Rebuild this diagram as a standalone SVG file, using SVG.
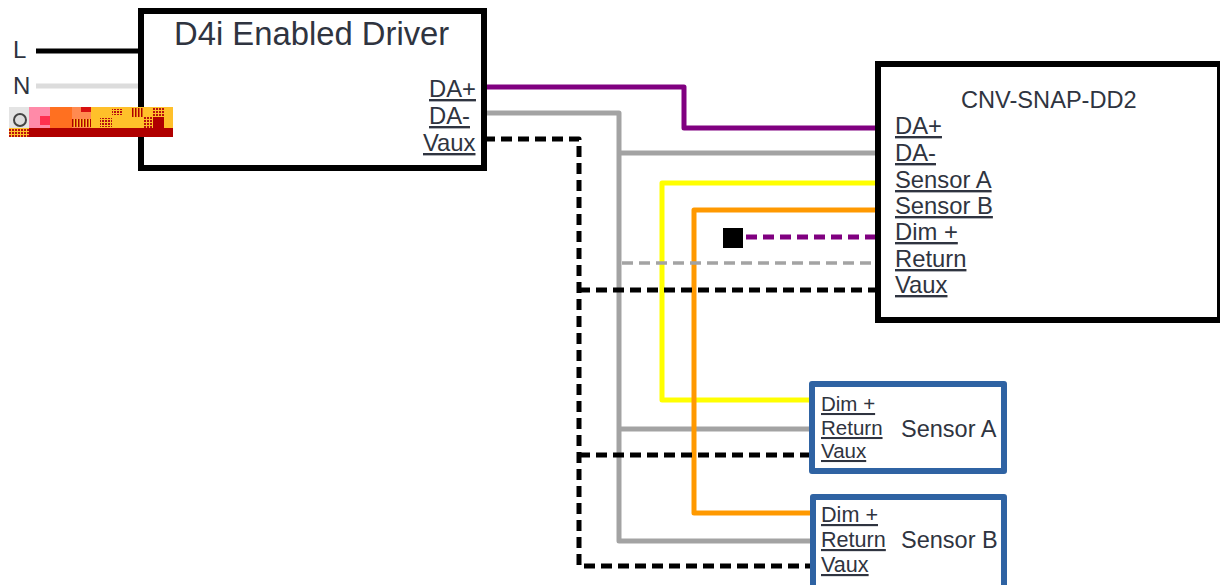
<svg xmlns="http://www.w3.org/2000/svg" width="1220" height="585" viewBox="0 0 1220 585">
<defs>
<pattern id="dith" width="3" height="3" patternUnits="userSpaceOnUse"><rect width="3" height="3" fill="#ffc02a"/><rect width="2" height="2" fill="#b81010"/></pattern>
<pattern id="bars" width="3" height="3" patternUnits="userSpaceOnUse"><rect width="3" height="3" fill="#ffc02a"/><rect width="1.5" height="3" fill="#b00000"/></pattern>
</defs>
<style>
text{font-family:"Liberation Sans",Arial,sans-serif;fill:#2f3440}
.u{text-decoration:underline}
.p{font-size:23.8px}
.a{font-size:20.5px}
.b{font-size:21.6px}
.box{fill:#fff;stroke:#000;stroke-width:6}
.sb{fill:#fff;stroke:#2f63a3;stroke-width:6;stroke-linejoin:round}
.w{fill:none;stroke-width:5;stroke-linejoin:round}
.d{stroke-dasharray:11 6}
.t{stroke-width:3.5}
</style>
<rect width="1220" height="585" fill="#fff"/>
<g id="connectors">
<path class="w" d="M36 51H140" stroke="#000"/>
<path class="w" d="M36 86H138" stroke="#dcdcdc"/>
<path class="w" d="M484 87H684V128H878" stroke="#800080"/>
<path class="w" d="M484 113H619V541H811" stroke="#a3a3a3"/>
<path class="w" d="M619 153H878" stroke="#a3a3a3"/>
<path class="w" d="M619 429H811" stroke="#a3a3a3"/>
<path class="w" d="M878 183H662V400H811" stroke="#ffff00"/>
<path class="w" d="M878 210H694V513H811" stroke="#ff9900"/>
<path class="w d" d="M746 237H878" stroke="#800080"/>
<path class="w d t" d="M622 263H878" stroke="#a3a3a3"/>
<path class="w d" d="M484 139H579V566H811" stroke="#000"/>
<path class="w d" d="M579 290H878" stroke="#000"/>
<path class="w d" d="M579 455H811" stroke="#000"/>
</g>
<g id="driver">
<rect class="box" x="141" y="11" width="343" height="157"/>
<text x="174" y="45" font-size="32.8">D4i Enabled Driver</text>
<text class="p u" x="429" y="97">DA+</text>
<text class="p u" x="429" y="124">DA-</text>
<text class="p u" x="423" y="151">Vaux</text>
</g>
<g id="mains">
<text x="13" y="58" font-size="24">L</text>
<text x="13" y="94" font-size="24">N</text>
</g>
<g id="noise-block">
<rect x="9" y="107" width="164" height="30" fill="#ffc02a"/>
<rect x="9" y="107" width="20" height="21" fill="#e4e4e4"/>
<rect x="29" y="107" width="21" height="21" fill="#ff8aa8"/>
<rect x="40" y="116" width="10" height="9" fill="#ff3050"/>
<rect x="50" y="107" width="22" height="21" fill="#ff7020"/>
<rect x="72" y="107" width="19" height="21" fill="#ff8a50"/>
<rect x="81" y="107" width="10" height="5" fill="#d81010"/>
<rect x="72" y="119" width="19" height="8" fill="url(#bars)"/>
<rect x="100" y="118" width="12" height="9" fill="url(#dith)"/>
<rect x="112" y="109" width="11" height="6" fill="url(#dith)"/>
<rect x="132" y="108" width="12" height="9" fill="url(#bars)"/>
<rect x="153" y="108" width="12" height="9" fill="url(#dith)"/>
<rect x="143" y="117" width="10" height="11" fill="url(#dith)"/>
<rect x="153" y="117" width="11" height="11" fill="#b00000"/>
<rect x="9" y="128" width="20" height="9" fill="url(#dith)"/>
<rect x="29" y="128" width="144" height="9" fill="#b00000"/>
<circle cx="20" cy="120" r="6" fill="#ddd" stroke="#444" stroke-width="2"/>
</g>
<g id="cnv-snap-dd2">
<rect class="box" x="878" y="64" width="342" height="256"/>
<text x="961" y="108" font-size="23.6">CNV-SNAP-DD2</text>
<text class="p u" x="895" y="134">DA+</text>
<text class="p u" x="895" y="161">DA-</text>
<text class="p u" x="895" y="188">Sensor A</text>
<text class="p u" x="895" y="214">Sensor B</text>
<text class="p u" x="895" y="240">Dim +</text>
<text class="p u" x="895" y="267">Return</text>
<text class="p u" x="895" y="293">Vaux</text>
</g>
<g id="dim-terminal"><rect x="723" y="228" width="20" height="20" fill="#000"/></g>
<g id="sensor-a">
<rect class="sb" x="812" y="384" width="192" height="87"/>
<text class="a u" x="821" y="411">Dim +</text>
<text class="a u" x="821" y="435">Return</text>
<text class="a u" x="821" y="458">Vaux</text>
<text x="901" y="437" font-size="23.5">Sensor A</text>
</g>
<g id="sensor-b">
<rect class="sb" x="813" y="497" width="191" height="92"/>
<text class="b u" x="821" y="522">Dim +</text>
<text class="b u" x="821" y="547">Return</text>
<text class="b u" x="821" y="572">Vaux</text>
<text x="901" y="548" font-size="23.5">Sensor B</text>
</g>
</svg>
